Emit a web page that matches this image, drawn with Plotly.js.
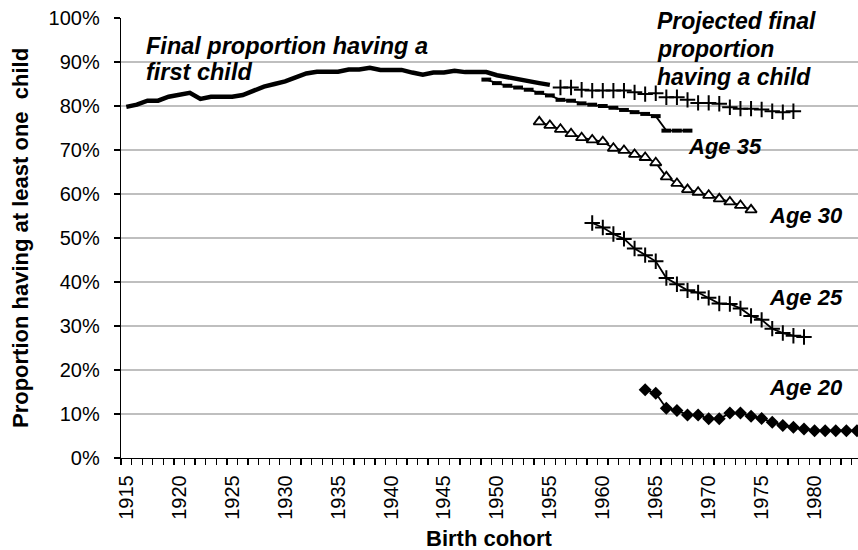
<!DOCTYPE html>
<html><head><meta charset="utf-8">
<script src="https://cdn.plot.ly/plotly-3.0.1.min.js"></script>
<style>html,body{margin:0;padding:0;background:#fff}</style>
</head><body><div id="chart" style="width:858px;height:550px"></div>
<script>
// Birth cohorts (years)
const finalYears = [1915,1916,1917,1918,1919,1920,1921,1922,1923,1924,1925,1926,1927,1928,1929,1930,1931,1932,1933,1934,1935,1936,1937,1938,1939,1940,1941,1942,1943,1944,1945,1946,1947,1948,1949,1950,1951,1952,1953,1954,1955];
const finalVals  = [79.8,80.3,81.2,81.2,82.1,82.6,83.0,81.6,82.1,82.1,82.1,82.5,83.5,84.4,85.0,85.6,86.5,87.4,87.8,87.8,87.8,88.3,88.3,88.7,88.2,88.2,88.2,87.6,87.1,87.6,87.6,88.0,87.7,87.7,87.7,87.0,86.5,86.0,85.6,85.2,84.8];

const projYears = [1956,1957,1958,1959,1960,1961,1962,1963,1964,1965,1966,1967,1968,1969,1970,1971,1972,1973,1974,1975,1976,1977,1978];
const projVals  = [84.2,84.2,83.7,83.5,83.5,83.5,83.5,83.1,82.7,82.9,82.0,82.0,81.4,80.7,80.7,80.5,79.7,79.4,79.4,79.2,78.8,78.6,78.8];

const age35Years = [1949,1950,1951,1952,1953,1954,1955,1956,1957,1958,1959,1960,1961,1962,1963,1964,1965,1966,1967,1968];
const age35Vals  = [86.0,85.2,84.6,84.2,83.7,83.0,82.4,81.4,81.2,80.6,80.3,80.0,79.6,79.1,78.6,78.2,77.7,74.4,74.4,74.4];

const age30Years = [1954,1955,1956,1957,1958,1959,1960,1961,1962,1963,1964,1965,1966,1967,1968,1969,1970,1971,1972,1973,1974];
const age30Vals  = [76.4,75.6,74.7,73.7,72.8,72.3,71.9,70.4,69.9,69.0,68.3,67.1,63.9,62.4,61.0,60.4,59.7,58.9,58.2,57.4,56.4];

const age25Years = [1959,1960,1961,1962,1963,1964,1965,1966,1967,1968,1969,1970,1971,1972,1973,1974,1975,1976,1977,1978,1979];
const age25Vals  = [53.4,52.4,50.9,49.8,47.6,46.1,44.7,40.9,39.5,38.1,37.6,36.4,35.1,35.0,34.0,32.3,31.4,29.4,28.4,27.8,27.5];

const age20Years = [1964,1965,1966,1967,1968,1969,1970,1971,1972,1973,1974,1975,1976,1977,1978,1979,1980,1981,1982,1983,1984];
const age20Vals  = [15.5,14.7,11.3,10.8,9.8,9.8,8.9,8.9,10.2,10.2,9.5,9.0,8.1,7.4,7.0,6.6,6.2,6.2,6.2,6.2,6.2];

const xTickVals = [1915,1920,1925,1930,1935,1940,1945,1950,1955,1960,1965,1970,1975,1980];
const yTickVals = [0,0.1,0.2,0.3,0.4,0.5,0.6,0.7,0.8,0.9,1.0];

const pct = a => a.map(v => v/100);
const F = 'Liberation Sans, Arial, sans-serif';

const traces = [
  {x: finalYears, y: pct(finalVals), mode:'lines', line:{color:'#000', width:4.5}, name:'Final'},
  {x: projYears, y: pct(projVals), mode:'markers', marker:{symbol:'cross-thin', size:11, line:{color:'#000', width:2}}, name:'Projected'},
  {x: age35Years, y: pct(age35Vals), mode:'lines+markers', line:{color:'#000', width:1.8},
   marker:{symbol:'line-ew', size:7, line:{color:'#000', width:4}}, name:'Age 35'},
  {x: age30Years, y: pct(age30Vals), mode:'lines+markers', line:{color:'#000', width:1.8},
   marker:{symbol:'triangle-up', size:10, color:'#fff', line:{color:'#000', width:1.8}}, name:'Age 30'},
  {x: age25Years, y: pct(age25Vals), mode:'lines+markers', line:{color:'#000', width:1.8},
   marker:{symbol:'cross-thin', size:11, line:{color:'#000', width:2}}, name:'Age 25'},
  {x: age20Years, y: pct(age20Vals), mode:'lines+markers', line:{color:'#000', width:1.8},
   marker:{symbol:'diamond', size:10, color:'#000'}, name:'Age 20'}
];

const ann = (text, x, y, size) => ({text:'<b><i>'+text+'</i></b>', x, y, xref:'x', yref:'y',
  showarrow:false, xanchor:'left', yanchor:'middle', align:'left',
  font:{family:F, size:size, color:'#000'}});

const layout = {
  width:858, height:550,
  margin:{l:121, r:0, t:18, b:92},
  paper_bgcolor:'#fff', plot_bgcolor:'#fff',
  showlegend:false,
  font:{family:F, color:'#000'},
  xaxis:{
    range:[1914.5, 1984.1], tickmode:'array', tickvals:xTickVals, ticktext:xTickVals.map(String),
    tickangle:-90, ticks:'', tickfont:{family:F, size:20, color:'#000'}, ticklabelstandoff:8,
    showgrid:false, zeroline:false, showline:true, linecolor:'#000', linewidth:1.3,
    minor:{tick0:1914.5, dtick:1, ticks:'outside', ticklen:6, tickcolor:'#000', tickwidth:1.3, showgrid:false}
  },
  yaxis:{
    range:[0,1], tickmode:'array', tickvals:yTickVals, ticktext:yTickVals.map(v=>Math.round(v*100)+'%'),
    ticks:'outside', ticklen:6, tickcolor:'#000', tickwidth:1.3, ticklabelstandoff:10,
    tickfont:{family:F, size:20, color:'#000'},
    showgrid:true, gridcolor:'#BFBFBF', gridwidth:2, zeroline:false,
    showline:true, linecolor:'#000', linewidth:1.3
  },
  annotations:[
    {text:'<b>Birth cohort</b>', xref:'paper', yref:'paper', x:0.5, y:-0.182, showarrow:false,
     xanchor:'center', yanchor:'middle', font:{family:F, size:22, color:'#000'}},
    {text:'<b>Proportion having at least one&nbsp; child</b>', xref:'paper', yref:'paper', x:-0.137, y:0.5,
     textangle:-90, showarrow:false, xanchor:'center', yanchor:'middle', font:{family:F, size:22, color:'#000'}},
    ann('Final proportion having a', 1916.7, 0.937, 23.5),
    ann('first child', 1916.7, 0.877, 23.5),
    ann('Projected final', 1964.9, 0.993, 23),
    ann('proportion', 1964.9, 0.930, 23),
    ann('having a child', 1964.9, 0.866, 23),
    ann('Age 35', 1967.9, 0.707, 22),
    ann('Age 30', 1975.5, 0.552, 22),
    ann('Age 25', 1975.5, 0.364, 22),
    ann('Age 20', 1975.5, 0.161, 22)
  ]
};

Plotly.newPlot('chart', traces, layout, {displayModeBar:false, staticPlot:true});
</script>
</body></html>
